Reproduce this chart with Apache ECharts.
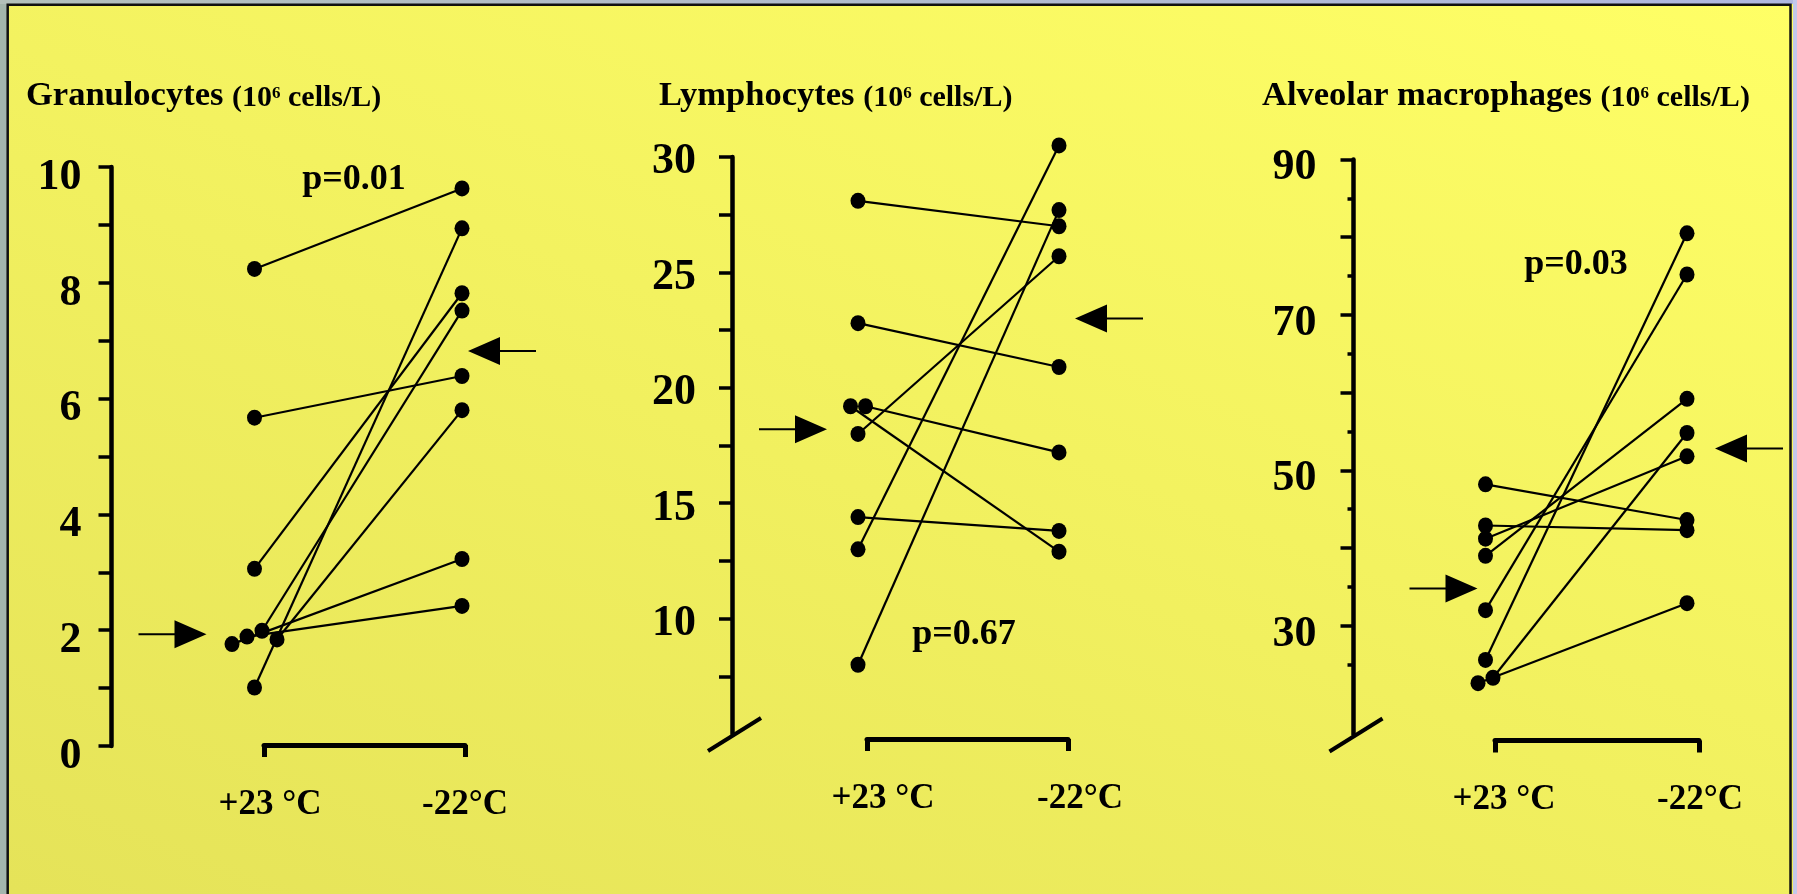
<!DOCTYPE html>
<html>
<head>
<meta charset="utf-8">
<title>Sputum cells at +23 °C and -22°C</title>
<script src="https://cdn.jsdelivr.net/npm/echarts@6/dist/echarts.min.js"></script>
<style>
html, body { margin: 0; padding: 0; background: #a3b5ad; }
#main { width: 1797px; height: 894px; }
</style>
</head>
<body>
<div id="main"></div>
<script>
// exposure conditions (x categories)
var conditions = ['+23 °C', '-22°C'];

// one value per subject, same order in warm / cold arrays (10^6 cells/L)
var granWarm = [8.24, 5.67, 3.06, 1.01, 1.76, 1.89, 1.99, 1.84];
var granCold = [9.63, 6.39, 7.82, 8.94, 3.23, 2.42, 7.52, 5.80];
var lymphWarm = [28.1, 22.8, 19.2, 19.2, 18.0, 14.4, 13.0, 8.0];
var lymphCold = [27.0, 20.9, 12.9, 17.2, 25.7, 13.8, 30.5, 27.7];
var macroWarm = [48.2, 42.9, 41.2, 39.0, 32.0, 25.6, 22.6, 23.3];
var macroCold = [43.6, 42.3, 51.8, 59.2, 75.2, 80.5, 32.9, 54.8];

// group levels marked with arrows [+23, -22]
var granMean = [1.93, 6.82];
var lymphMean = [18.2, 23.0];
var macroMean = [34.8, 52.8];

// axis ticks and labels
var granTicks = [0, 1, 2, 3, 4, 5, 6, 7, 8, 9, 10];
var granLabels = [0, 2, 4, 6, 8, 10];
var lymphTicks = [7.5, 10, 12.5, 15, 17.5, 20, 22.5, 25, 27.5, 30];
var lymphLabels = [10, 15, 20, 25, 30];
var macroTicks = [30, 40, 50, 60, 70, 80, 90];
var macroMinorTicks = [25, 35, 45, 55, 65, 75, 85];
var macroLabels = [30, 50, 70, 90];

var panelNames = ['Granulocytes', 'Lymphocytes', 'Alveolar macrophages'];
var pValues = ['p=0.01', 'p=0.67', 'p=0.03'];

var FONT = '"Liberation Serif", "Times New Roman", serif';
var PAD = 60; // data area reaches this far past the bracket on both sides

var panels = [
    {
        name: panelNames[0], warm: granWarm, cold: granCold, mean: granMean,
        range: [0, 10], ticks: granTicks, labels: granLabels, p: pValues[0],
        bracket: { left: 264, width: 201 }, top: 167, height: 579, axisX: 111.5,
        colShift: [-9.5, -3], xOffset: -1, labelMargin: 30, labelLH: 21,
        condShift: [6, 0],
        titleLeft: 26, pX: 354, pY: 180, arrowGap: [-48, 6], brk: false
    },
    {
        name: panelNames[1], warm: lymphWarm, cold: lymphCold, mean: lymphMean,
        range: [5, 30], ticks: lymphTicks, labels: lymphLabels, p: pValues[1],
        bracket: { left: 867, width: 201 }, top: 157, height: 577, axisX: 732,
        colShift: [-9, -9], xOffset: 5, labelMargin: 36, labelLH: 10,
        condShift: [16, 12],
        titleLeft: 659, pX: 964, pY: 635, arrowGap: [-31, 16], brk: true
    },
    {
        name: panelNames[2], warm: macroWarm, cold: macroCold, mean: macroMean,
        range: [16, 90], ticks: macroTicks, labels: macroLabels, p: pValues[2],
        bracket: { left: 1495, width: 204 }, top: 159.5, height: 575, axisX: 1353.5,
        colShift: [-9.5, -12], xOffset: 6, labelMargin: 37, labelLH: 17,
        condShift: [9, 1],
        titleLeft: 1262, pX: 1576, pY: 265, arrowGap: [-8, 28], brk: true
    }
];

// side-by-side placement of dots that would sit on top of each other
function spread(vals, range, gridH, unitPx) {
    var pxPerUnit = gridH / (range[1] - range[0]);
    var order = vals.map(function (v, i) { return i; });
    order.sort(function (a, b) { return vals[a] - vals[b]; });
    var groups = [], cur = [order[0]];
    for (var k = 1; k < order.length; k++) {
        if ((vals[order[k]] - vals[order[k - 1]]) * pxPerUnit < 8) {
            cur.push(order[k]);
        } else {
            groups.push(cur);
            cur = [order[k]];
        }
    }
    groups.push(cur);
    var shift = vals.map(function () { return 0; });
    groups.forEach(function (g) {
        g.sort(function (a, b) { return a - b; });
        g.forEach(function (idx, j) {
            shift[idx] = (j - (g.length - 1) / 2) * 15 / unitPx;
        });
    });
    return shift;
}

function condStyle(shift) {
    return {
        color: '#000', fontFamily: FONT, fontWeight: 'bold', fontSize: 35, lineHeight: 35,
        padding: [0, 0, 0, 2 * shift]
    };
}

var arrowRight = 'path://M0,13L36,13L36,0L68,14L36,28L36,15L0,15Z';
var arrowLeft = 'path://M68,13L32,13L32,0L0,14L32,28L32,15L68,15Z';

var grids = [], xAxes = [], yAxes = [], series = [], titles = [], graphics = [];

panels.forEach(function (p, i) {
    var dataLeft = p.bracket.left - PAD;
    var dataWidth = p.bracket.width + 2 * PAD;
    var unitPx = p.bracket.width + p.colShift[1] - p.colShift[0];
    var xMin = -(PAD + p.colShift[0]) / unitPx;
    var xMax = xMin + dataWidth / unitPx;

    // grid 2i: bracket with the two conditions, grid 2i+1: the data
    grids.push({
        left: p.bracket.left, top: p.top, width: p.bracket.width, height: p.height,
        containLabel: false, outerBoundsMode: 'none'
    });
    grids.push({
        left: dataLeft, top: p.top, width: dataWidth, height: p.height,
        containLabel: false, outerBoundsMode: 'none'
    });

    xAxes.push({
        type: 'category', gridIndex: 2 * i, data: conditions, position: 'bottom',
        boundaryGap: false, offset: p.xOffset,
        axisLine: { show: true, onZero: false, lineStyle: { color: '#000', width: 5 } },
        axisTick: { show: true, interval: 0, length: 12, lineStyle: { color: '#000', width: 5 } },
        axisLabel: {
            interval: 0, hideOverlap: false,
            color: '#000', fontFamily: FONT, fontWeight: 'bold', fontSize: 35,
            lineHeight: 35, margin: 42,
            formatter: function (val, idx) { return '{c' + idx + '|' + val + '}'; },
            rich: { c0: condStyle(p.condShift[0]), c1: condStyle(p.condShift[1]) }
        },
        splitLine: { show: false }
    });
    xAxes.push({ type: 'value', gridIndex: 2 * i + 1, min: xMin, max: xMax, show: false });

    yAxes.push({
        type: 'value', gridIndex: 2 * i + 1, position: 'left', offset: dataLeft - p.axisX,
        min: p.range[0], max: p.range[1],
        axisLine: { show: true, onZero: false, lineStyle: { color: '#000', width: 4.5 } },
        axisTick: { show: true, length: 13, customValues: p.ticks, lineStyle: { color: '#000', width: 3.5 } },
        axisLabel: {
            customValues: p.labels, color: '#000', fontFamily: FONT, fontWeight: 'bold',
            fontSize: 44, margin: p.labelMargin, verticalAlign: 'top', lineHeight: p.labelLH
        },
        splitLine: { show: false }
    });
    yAxes.push({ type: 'value', gridIndex: 2 * i, min: p.range[0], max: p.range[1], show: false });

    var sw = spread(p.warm, p.range, p.height, unitPx);
    var sc = spread(p.cold, p.range, p.height, unitPx);
    p.warm.forEach(function (w, j) {
        series.push({
            type: 'line', xAxisIndex: 2 * i + 1, yAxisIndex: 2 * i,
            data: [[0 + sw[j], w], [1 + sc[j], p.cold[j]]],
            symbol: 'circle', symbolSize: [15, 16],
            itemStyle: { color: '#000', opacity: 1 },
            lineStyle: { color: '#000', width: 2.2 },
            clip: false, silent: true, animation: false
        });
    });

    series.push({
        type: 'scatter', xAxisIndex: 2 * i + 1, yAxisIndex: 2 * i,
        data: [[0, p.mean[0]]],
        symbol: arrowRight, symbolSize: [68, 28], symbolOffset: [p.arrowGap[0] - 34, 0],
        itemStyle: { color: '#000', opacity: 1 }, clip: false, silent: true, animation: false
    });
    series.push({
        type: 'scatter', xAxisIndex: 2 * i + 1, yAxisIndex: 2 * i,
        data: [[1, p.mean[1]]],
        symbol: arrowLeft, symbolSize: [68, 28], symbolOffset: [p.arrowGap[1] + 34, 0],
        itemStyle: { color: '#000', opacity: 1 }, clip: false, silent: true, animation: false
    });

    titles.push({
        left: p.titleLeft, top: 79.5, padding: 0,
        text: '{big|' + p.name + ' }{small|(10}{sup|6}{small| cells/L)}',
        textStyle: {
            color: '#000', fontFamily: FONT,
            rich: {
                big: { fontSize: 34.5, lineHeight: 34, fontWeight: 'bold', fontFamily: FONT, color: '#000', verticalAlign: 'bottom' },
                small: { fontSize: 30, lineHeight: 30, fontWeight: 'bold', fontFamily: FONT, color: '#000', verticalAlign: 'bottom' },
                sup: { fontSize: 17, lineHeight: 17, fontWeight: 'bold', fontFamily: FONT, color: '#000', verticalAlign: 'top', padding: [6, 0, 0, 0] }
            }
        }
    });

    graphics.push({
        type: 'text', x: p.pX, y: p.pY, silent: true,
        style: {
            text: p.p, fill: '#000', fontSize: 36, fontWeight: 'bold', fontFamily: FONT,
            align: 'center', verticalAlign: 'middle'
        }
    });

    if (p.brk) {
        var by = p.top + p.height;
        graphics.push({
            type: 'line', silent: true,
            shape: { x1: p.axisX - 24, y1: by + 17, x2: p.axisX + 29, y2: by - 16 },
            style: { stroke: '#000', lineWidth: 4 }
        });
    }
});

// short in-between ticks of the macrophage axis
yAxes.push({
    type: 'value', gridIndex: 5, position: 'left', offset: panels[2].bracket.left - PAD - panels[2].axisX,
    min: panels[2].range[0], max: panels[2].range[1],
    axisLine: { show: false, onZero: false },
    axisTick: { show: true, length: 6, customValues: macroMinorTicks, lineStyle: { color: '#000', width: 3.5 } },
    axisLabel: { show: false },
    splitLine: { show: false }
});

// slide frame
graphics.unshift(
    { type: 'rect', silent: true, shape: { x: 0, y: 0, width: 8, height: 894 }, style: { fill: '#a3b5ad' } },
    {
        type: 'rect', silent: true, shape: { x: 0, y: 0, width: 1797, height: 4 },
        style: { fill: new echarts.graphic.LinearGradient(0, 0, 1, 0, [
            { offset: 0, color: '#b3c0bb' }, { offset: 1, color: '#b0b8e0' }
        ]) }
    },
    { type: 'rect', silent: true, shape: { x: 1793, y: 0, width: 4, height: 894 }, style: { fill: '#c4c8ea' } },
    {
        type: 'polyline', silent: true,
        shape: { points: [[7.7, 894], [7.7, 4.8], [1790.5, 4.8], [1790.5, 894]] },
        style: { stroke: '#111', lineWidth: 2.5, fill: null }
    }
);

var myChart = echarts.init(document.getElementById('main'));
var option = {
    animation: false,
    backgroundColor: new echarts.graphic.LinearGradient(1797, 0, 1265, 1375, [
        { offset: 0, color: '#ffff66' },
        { offset: 1, color: '#e5e359' }
    ], true),
    title: titles,
    grid: grids,
    xAxis: xAxes,
    yAxis: yAxes,
    series: series,
    graphic: graphics
};
myChart.setOption(option);
</script>
</body>
</html>
